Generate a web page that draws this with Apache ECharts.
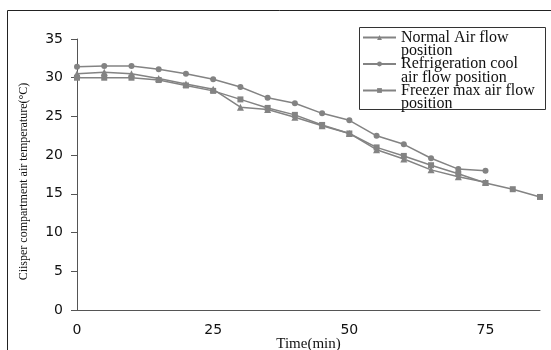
<!DOCTYPE html>
<html>
<head>
<meta charset="utf-8">
<script src="https://cdn.jsdelivr.net/npm/echarts@6/dist/echarts.min.js"></script>
<style>html,body{margin:0;padding:0;background:#fff}#c{width:551px;height:350px}</style>
</head>
<body>
<div id="c"></div>
<script>
const timeNormal = [0,5,10,15,20,25,30,35,40,45,50,55,60,65,70,75];
const normalAir = [30.5,30.7,30.5,29.9,29.2,28.5,26.2,25.9,24.9,23.8,22.8,20.7,19.5,18.1,17.2,16.5];
const timeRefrig = [0,5,10,15,20,25,30,35,40,45,50,55,60,65,70,75];
const refrigCool = [31.4,31.5,31.5,31.1,30.5,29.8,28.8,27.4,26.7,25.4,24.5,22.5,21.4,19.6,18.2,18.0];
const timeFreezer = [0,5,10,15,20,25,30,35,40,45,50,55,60,65,70,75,80,85];
const freezerMax = [30.0,30.0,30.0,29.7,29.0,28.3,27.2,26.1,25.2,23.9,22.8,21.0,19.9,18.7,17.6,16.4,15.6,14.6];
const seriesNames = ['Normal Air flow\nposition','Refrigeration cool\nair flow position','Freezer max air flow\nposition'];
const yTicks = {min:0,max:35,interval:5};
const xTicks = {min:0,max:85,interval:25};

const pair = (xs, ys) => xs.map((x,i)=>[x,ys[i]]);
const gray = '#838383';
const mk = (name, data, symbol, size) => ({
  name, type:'line', data, symbol, symbolSize:size, showAllSymbol:true,
  lineStyle:{color:gray,width:1.5}, itemStyle:{color:gray}, animation:false
});

const chart = echarts.init(document.getElementById('c'), null, {renderer:'canvas'});
chart.setOption({
  backgroundColor:'#fff',
  animation:false,
  graphic:[
    {type:'rect',shape:{x:7.5,y:10.5,width:600,height:400},style:{fill:'none',stroke:'#222',lineWidth:1},silent:true,z:-1},
    {type:'rect',shape:{x:359.5,y:27.5,width:186,height:82},style:{fill:'#fff',stroke:'#333',lineWidth:1},silent:true,z:0}
  ],
  grid:{left:77,right:11,top:39,bottom:40,outerBoundsMode:'none',containLabel:false},
  legend:{
    orient:'vertical', left:359, top:16, z:5,
    data:seriesNames,
    formatter: n => '\n' + n,
    padding:[0,4,0,3],
    itemWidth:33, itemHeight:6, itemGap:-16.5,
    textStyle:{fontFamily:'Liberation Serif',fontSize:16,color:'#111',lineHeight:13.5}
  },
  xAxis:{
    type:'value', min:xTicks.min, max:xTicks.max, interval:xTicks.interval,
    name:'Time(min)', nameLocation:'middle', nameGap:27, nameMoveOverlap:false,
    nameTextStyle:{fontFamily:'Liberation Serif',fontSize:15,color:'#111'},
    axisLine:{lineStyle:{color:'#555',width:1}},
    axisTick:{show:false},
    axisLabel:{fontFamily:'DejaVu Sans',fontSize:14,color:'#111',margin:13,showMaxLabel:false},
    splitLine:{show:false}
  },
  yAxis:{
    type:'value', min:yTicks.min, max:yTicks.max, interval:yTicks.interval,
    name:'Ciisper compartment air temperature(°C)', nameLocation:'middle', nameGap:47, nameRotate:90, nameMoveOverlap:false,
    nameTextStyle:{fontFamily:'Liberation Serif',fontSize:12,color:'#111',padding:[0,14,0,0]},
    axisLine:{show:true,lineStyle:{color:'#555',width:1}},
    axisTick:{show:true,length:6,lineStyle:{color:'#555'}},
    axisLabel:{fontFamily:'DejaVu Sans',fontSize:14,color:'#111',margin:14},
    splitLine:{show:false}
  },
  series:[
    mk(seriesNames[0], pair(timeNormal,normalAir), 'triangle', 7),
    mk(seriesNames[1], pair(timeRefrig,refrigCool), 'circle', 6),
    mk(seriesNames[2], pair(timeFreezer,freezerMax), 'rect', 6)
  ]
});
</script>
</body>
</html>
